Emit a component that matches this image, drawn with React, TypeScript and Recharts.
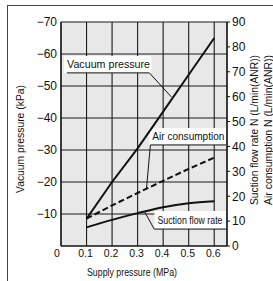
import {
    ComposedChart,
    Line,
    XAxis,
    YAxis,
    CartesianGrid,
    ReferenceArea,
    ReferenceLine,
    Label,
} from "recharts";

// supply pressure (MPa) where the curves were read
const supplyPressure = [0.1, 0.2, 0.3, 0.4, 0.5, 0.6];
// vacuum pressure (kPa), left axis
const vacuumPressure = [-8.5, -20, -30.5, -42, -53.5, -65];
// air consumption N (L/min(ANR)), right axis
const airConsumption = [11, 16.3, 21.3, 26.2, 31, 35.5];
// suction flow rate N (L/min(ANR)), right axis
const suctionFlowRate = [7.5, 10.5, 13.2, 15.6, 17.2, 18];

const pressureTicks = [0, 0.1, 0.2, 0.3, 0.4, 0.5, 0.6];
const pressureMinorTicks = [0.05, 0.15, 0.25, 0.35, 0.45, 0.55];
const vacuumTicks = [-70, -60, -50, -40, -30, -20, -10];
const vacuumMinorTicks = [-65, -55, -45, -35, -25, -15, -5];
const flowTicks = [0, 10, 20, 30, 40, 50, 60, 70, 80, 90];

const data = supplyPressure.map((p, i) => ({
    p,
    vacuum: vacuumPressure[i],
    air: airConsumption[i],
    suction: suctionFlowRate[i],
}));

const FONT = "'Liberation Sans', Arial, Helvetica, sans-serif";
const INK = "#111";

function VacuumTick({ x, y, payload }: any) {
    return (
        <text x={x} y={y} dy={4.3} textAnchor="end" fontSize={12} fontFamily={FONT} fill={INK}>
            {"\u2212" + Math.abs(payload.value)}
        </text>
    );
}

function PressureTick({ x, y, payload }: any) {
    const v = payload.value;
    return (
        <text
            x={v === 0 ? x - 4 : x - 1}
            y={y + 7}
            textAnchor="middle"
            fontSize={10.5}
            fontFamily={FONT}
            fill={INK}
        >
            {v === 0 ? "0" : v.toFixed(1)}
        </text>
    );
}

function FlowTick({ x, y, payload }: any) {
    return (
        <text x={x} y={y} dy={4.3} textAnchor="start" fontSize={12} fontFamily={FONT} fill={INK}>
            {payload.value}
        </text>
    );
}

const xTitle = (props: any) => {
    const vb = props.viewBox;
    return (
        <text x={vb.x + 71} y={vb.y + 30} textAnchor="middle" fontSize={11} fontFamily={FONT}
            fill={INK} textLength={90} lengthAdjust="spacingAndGlyphs">
            Supply pressure (MPa)
        </text>
    );
};

const leftTitle = (props: any) => {
    const vb = props.viewBox;
    return (
        <text transform={`translate(${vb.x + 24},${vb.y + 117}) rotate(-90)`} textAnchor="middle"
            fontSize={11} fontFamily={FONT} fill={INK} textLength={108} lengthAdjust="spacingAndGlyphs">
            Vacuum pressure (kPa)
        </text>
    );
};

const rightTitles = (props: any) => {
    const vb = props.viewBox;
    return (
        <g>
            <text transform={`translate(${vb.x + 31},${vb.y + 108}) rotate(-90)`} textAnchor="middle"
                fontSize={11} fontFamily={FONT} fill={INK} textLength={150} lengthAdjust="spacingAndGlyphs">
                Suction flow rate N (L/min(ANR))
            </text>
            <text transform={`translate(${vb.x + 45},${vb.y + 108}) rotate(-90)`} textAnchor="middle"
                fontSize={11} fontFamily={FONT} fill={INK} textLength={150} lengthAdjust="spacingAndGlyphs">
                Air consumption N (L/min(ANR))
            </text>
        </g>
    );
};

// white label box: text sits 3px in from the left and 5px above the bottom
const boxLabel = (text: string, length: number) => (props: any) => {
    const vb = props.viewBox;
    return (
        <text x={vb.x + 3} y={vb.y + vb.height - 5} fontSize={11} fontFamily={FONT} fill={INK}
            textLength={length} lengthAdjust="spacingAndGlyphs">
            {text}
        </text>
    );
};

export default function App() {
    return (
        <div style={{ position: "absolute", left: 0, top: 0, width: 273, height: 281, background: "#fff", overflow: "hidden" }}>
            {/* page frame */}
            <div
                style={{
                    position: "absolute",
                    left: 7,
                    top: 5,
                    width: 266,
                    height: 276,
                    borderTop: "1px solid #444",
                    borderLeft: "1px solid #444",
                    boxSizing: "border-box",
                }}
            />

            <ComposedChart width={273} height={281} data={data} margin={{ top: 22, right: 0, bottom: 0, left: 0 }}>

                {/* minor ticks, drawn inward */}
                <XAxis xAxisId="minor" type="number" domain={[0, 0.65]} ticks={pressureMinorTicks}
                    interval={0} mirror height={0} tick={false} tickSize={3} axisLine={false}
                    tickLine={{ stroke: INK }} allowDataOverflow />
                <YAxis yAxisId="vacMinor" type="number" domain={[-70, 0]} reversed ticks={vacuumMinorTicks}
                    interval={0} mirror width={0} tick={false} tickSize={3} axisLine={false}
                    tickLine={{ stroke: INK }} />

                <XAxis xAxisId="p" dataKey="p" type="number" domain={[0, 0.65]} ticks={pressureTicks}
                    interval={0} tick={<PressureTick />} tickSize={0} tickMargin={4} tickLine={false}
                    height={35} axisLine={{ stroke: INK, strokeWidth: 1.2 }} allowDataOverflow>
                    <Label content={xTitle} />
                </XAxis>

                <YAxis yAxisId="vac" orientation="left" type="number" domain={[-70, 0]} reversed
                    ticks={vacuumTicks} interval={0} tick={<VacuumTick />} tickSize={0} tickMargin={4}
                    tickLine={false} width={61} axisLine={{ stroke: INK, strokeWidth: 1.2 }}>
                    <Label content={leftTitle} />
                </YAxis>

                <YAxis yAxisId="flow" orientation="right" type="number" domain={[0, 90]} ticks={flowTicks}
                    interval={0} tick={<FlowTick />} tickSize={3} tickMargin={2} width={46}
                    axisLine={{ stroke: INK, strokeWidth: 1.2 }} tickLine={{ stroke: INK }}>
                    <Label content={rightTitles} />
                </YAxis>

                <CartesianGrid xAxisId="p" yAxisId="vac" stroke="#1a1a1a" strokeWidth={1.1}
                    fill="#e8e8e8" fillOpacity={1} />

                <Line xAxisId="p" yAxisId="vac" dataKey="vacuum" type="linear" stroke={INK}
                    strokeWidth={2} dot={false} isAnimationActive={false} />
                <Line xAxisId="p" yAxisId="flow" dataKey="air" type="linear" stroke={INK}
                    strokeWidth={2} strokeDasharray="6 3" dot={false} isAnimationActive={false} />
                <Line xAxisId="p" yAxisId="flow" dataKey="suction" type="monotone" stroke={INK}
                    strokeWidth={2} dot={false} isAnimationActive={false} />

                {/* label boxes */}
                <ReferenceArea xAxisId="p" yAxisId="vac" x1={0.012} x2={0.354} y1={-59.4} y2={-54.1}
                    fill="#fff" fillOpacity={1} stroke="none" label={boxLabel("Vacuum pressure", 83)} />
                <ReferenceArea xAxisId="p" yAxisId="flow" x1={0.346} x2={0.646} y1={47.4} y2={40.6}
                    fill="#fff" fillOpacity={1} stroke="none" label={boxLabel("Air consumption", 72)} />
                <ReferenceArea xAxisId="p" yAxisId="flow" x1={0.366} x2={0.646} y1={14.1} y2={6.8}
                    fill="#fff" fillOpacity={1} stroke="none" label={boxLabel("Suction flow rate", 65)} />

                {/* leader lines */}
                <ReferenceLine xAxisId="p" yAxisId="vac" stroke={INK} strokeWidth={1} ifOverflow="visible"
                    segment={[{ x: 0.023, y: -54.1 }, { x: 0.346, y: -54.1 }]} />
                <ReferenceLine xAxisId="p" yAxisId="vac" stroke={INK} strokeWidth={1} ifOverflow="visible"
                    segment={[{ x: 0.346, y: -54.1 }, { x: 0.432, y: -46.6 }]} />
                <ReferenceLine xAxisId="p" yAxisId="flow" stroke={INK} strokeWidth={1} ifOverflow="visible"
                    segment={[{ x: 0.646, y: 40.6 }, { x: 0.35, y: 40.6 }]} />
                <ReferenceLine xAxisId="p" yAxisId="flow" stroke={INK} strokeWidth={1} ifOverflow="visible"
                    segment={[{ x: 0.35, y: 40.6 }, { x: 0.335, y: 23.3 }]} />
                <ReferenceLine xAxisId="p" yAxisId="flow" stroke={INK} strokeWidth={1} ifOverflow="visible"
                    segment={[{ x: 0.327, y: 13.8 }, { x: 0.365, y: 6.8 }]} />
                <ReferenceLine xAxisId="p" yAxisId="flow" stroke={INK} strokeWidth={1} ifOverflow="visible"
                    segment={[{ x: 0.365, y: 6.8 }, { x: 0.646, y: 6.8 }]} />

            </ComposedChart>
        </div>
    );
}
